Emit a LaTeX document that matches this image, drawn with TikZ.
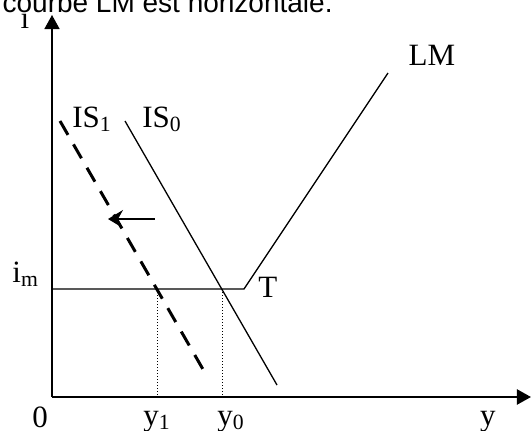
\documentclass[tikz,border=0pt]{standalone}
\usepackage{fontspec}
\setmainfont{Liberation Serif}
\newfontfamily\headfont{Liberation Sans}
\usepackage{tikz}
\usetikzlibrary{arrows.meta}

\begin{document}
\begin{tikzpicture}[
  x=0.5pt, y=-0.5pt,
  every node/.style={font=\fontsize{15.5}{18}\selectfont, inner sep=0pt},
  axis/.style={-{Triangle[length=7pt, width=7.5pt]}},
  curve/.style={line width=0.65pt},
  shifted/.style={line width=1.5pt, dash pattern=on 8pt off 5.5pt},
  guide/.style={line width=0.45pt, dash pattern=on 0.5pt off 1pt},
  move/.style={-{Stealth[length=7.5pt, width=9pt, inset=2.5pt]}, line width=0.65pt}
]
  \useasboundingbox (0,0) rectangle (532,430);
  \clip (0,0) rectangle (532,430);

  % Points du graphique
  \coordinate (O) at (52,397);
  \coordinate (yend) at (52,15);
  \coordinate (xend) at (531,397);
  \coordinate (im) at (52,289);
  \coordinate (T) at (244,289);
  \coordinate (LMtop) at (388,73);
  \coordinate (IS0a) at (125,121);
  \coordinate (IS0b) at (277,385);
  \coordinate (IS1a) at (60,121);
  \coordinate (IS1b) at (208,378);
  \coordinate (E0) at (222,289);
  \coordinate (E1) at (157,289);
  \coordinate (y0) at (222,397);
  \coordinate (y1) at (157,397);
  \coordinate (shiftA) at (155,219);
  \coordinate (shiftB) at (108,219);

  % Axes
  \draw[axis, line width=0.75pt] (O) -- (yend);
  \draw[axis, line width=1.1pt] (O) -- (xend);

  % Courbes LM, IS0 et IS1
  \draw[curve] (im) -- (T) -- (LMtop);
  \draw[curve] (IS0a) -- (IS0b);
  \draw[shifted] (IS1a) -- (IS1b);

  % Pointilles vers l'axe des y
  \draw[guide] (E1) -- (y1);
  \draw[guide] (E0) -- (y0);

  % Deplacement de IS
  \draw[move] (shiftA) -- (shiftB);

  % Etiquettes
  \node[anchor=base] (ilab) at (25,28) {i};
  \node[anchor=base] (lmlab) at (432,65) {LM};
  \node[anchor=base west] (is1lab) at (72,127) {IS\textsubscript{1}};
  \node[anchor=base west] (is0lab) at (142,127) {IS\textsubscript{0}};
  \node[anchor=base west] (tlab) at (258,297) {T};
  \node[anchor=base west] (imlab) at (12,282) {i\textsubscript{m}};
  \node[anchor=base west] (zero) at (32,427) {0};
  \node[anchor=base west] (y1lab) at (143,425) {y\textsubscript{1}};
  \node[anchor=base west] (y0lab) at (217,425) {y\textsubscript{0}};
  \node[anchor=base] (ylab) at (488,425) {y};

  % Ligne de texte coupee en haut (par-dessus le point du i)
  \node[font=\headfont\fontsize{14}{16}\selectfont, anchor=base east, fill=white] (head) at (333,12) {courbe LM est horizontale.};

\end{tikzpicture}
\end{document}
